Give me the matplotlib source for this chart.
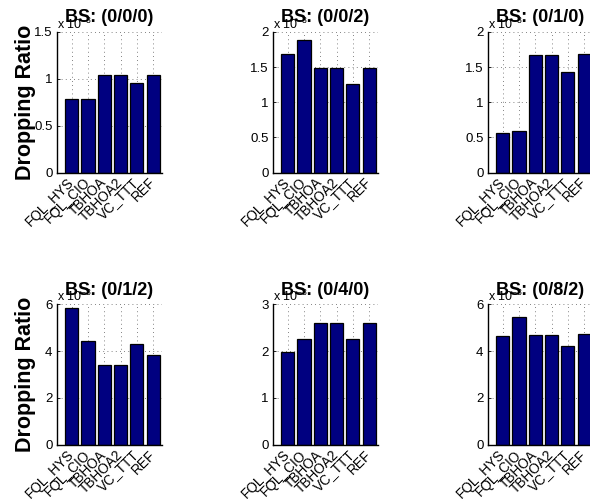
import matplotlib
matplotlib.use("Agg")
import matplotlib.pyplot as plt
import numpy as np

plt.rcParams['font.family'] = ['Liberation Sans', 'DejaVu Sans']
plt.rcParams['mathtext.fontset'] = 'custom'
plt.rcParams['mathtext.rm'] = 'Liberation Sans'

# Data (values in units of 1e-3)
categories = ["FQL_HYS", "FQL_CIO", "TBHOA", "TBHOA2", "VC_TTT", "REF"]
titles = ["BS: (0/0/0)", "BS: (0/0/2)", "BS: (0/1/0)",
          "BS: (0/1/2)", "BS: (0/4/0)", "BS: (0/8/2)"]
vals_000 = [0.79, 0.79, 1.04, 1.04, 0.96, 1.04]
vals_002 = [1.69, 1.89, 1.49, 1.49, 1.26, 1.49]
vals_010 = [0.56, 0.59, 1.67, 1.67, 1.43, 1.68]
vals_012 = [5.85, 4.43, 3.42, 3.42, 4.29, 3.84]
vals_040 = [1.98, 2.26, 2.60, 2.60, 2.25, 2.60]
vals_082 = [4.65, 5.46, 4.68, 4.68, 4.22, 4.72]
series = [vals_000, vals_002, vals_010, vals_012, vals_040, vals_082]
yticks = [[0, 0.5, 1, 1.5], [0, 0.5, 1, 1.5, 2], [0, 0.5, 1, 1.5, 2],
          [0, 2, 4, 6], [0, 1, 2, 3], [0, 2, 4, 6]]
ytick_labels = [["0", "0.5", "1", "1.5"], ["0", "0.5", "1", "1.5", "2"],
                ["0", "0.5", "1", "1.5", "2"], ["0", "2", "4", "6"],
                ["0", "1", "2", "3"], ["0", "2", "4", "6"]]
exponent = -3
ylabel = "Dropping Ratio"

W, H = 590, 503
fig = plt.figure(figsize=(W / 100, H / 100), dpi=100)

lefts = [56.7, 272.7, 487.7]
tops = [32, 304.3]
aw, ah = 105, 140.5

x = np.arange(1, len(categories) + 1)
for i in range(6):
    r, c = divmod(i, 3)
    ax = fig.add_axes([lefts[c] / W, 1 - (tops[r] + ah) / H, aw / W, ah / H])
    ax.bar(x, series[i], width=0.8, color='#000080', edgecolor='black',
           linewidth=0.9, zorder=3)
    ax.set_xlim(0.08, 6.52)
    ax.set_ylim(yticks[i][0], yticks[i][-1])
    ax.set_yticks(yticks[i])
    ax.set_yticklabels(ytick_labels[i], fontsize=9.5)
    ax.set_xticks(x)
    ax.set_xticklabels(categories, fontsize=9.8, rotation=45, ha='right',
                       va='center', rotation_mode='anchor')
    ax.tick_params(axis='x', direction='in', length=2, pad=5.5, width=0.6)
    ax.tick_params(axis='y', direction='in', length=2, pad=3, width=0.6)
    ax.grid(True, linestyle=(0, (1, 4)), color='0.35', linewidth=0.6, zorder=0)
    ax.set_axisbelow(True)
    for s in ['top', 'right']:
        ax.spines[s].set_visible(False)
    for s in ['left', 'bottom']:
        ax.spines[s].set_linewidth(1.0)
        ax.spines[s].set_zorder(4)
    ax.set_title(titles[i], fontsize=13, fontweight='bold', pad=7)
    ax.text(0.0, 1.0, r'x 10$^{\mathregular{%d}}$' % exponent,
            transform=ax.transAxes, fontsize=9, ha='left', va='bottom')
    if c == 0:
        ax.set_ylabel(ylabel, fontsize=15.5, fontweight='bold')
        ax.yaxis.set_label_coords(-0.20, 0.5)

fig.savefig("out.png", dpi=100)
